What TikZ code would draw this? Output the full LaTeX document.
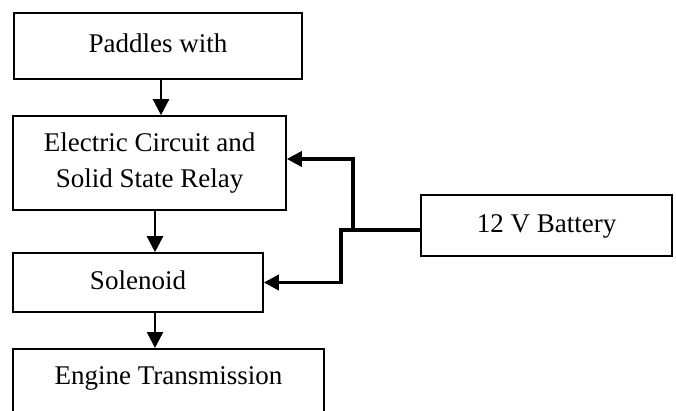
\documentclass[tikz,border=0pt]{standalone}
\usepackage{fontspec}
\setmainfont{Liberation Serif}
\usetikzlibrary{arrows.meta, positioning}

\begin{document}
\begin{tikzpicture}[
  x=1pt, y=1pt,
  font=\fontsize{27}{36}\selectfont,
  block/.style={draw, line width=1.6pt, inner sep=0pt, align=center},
  oneline/.style={block, text height=19pt, text depth=6pt},
  edge/.style={-{Triangle[length=16pt, width=16pt]}, line width=2.4pt},
  power/.style={-{Triangle[length=15pt, width=15pt]}, line width=3.6pt}
]
\clip (0,0) rectangle (676,410);
\node[oneline, minimum width=288pt, minimum height=66pt] (paddles) at (158,364) {Paddles with};
\node[block, minimum width=273pt, minimum height=94pt] (circuit) at (149.5,247) {Electric Circuit and\\Solid State Relay};
\node[oneline, minimum width=250pt, minimum height=59pt] (solenoid) at (138,127.5) {Solenoid};
\node[block, anchor=north, minimum width=311pt, text height=26pt, text depth=40pt, inner ysep=10pt] (engine) at (168.5,62) {Engine Transmission};
\node[oneline, minimum width=251pt, minimum height=61pt] (battery) at (546.5,184.5) {12 V Battery};

\coordinate (split) at (353,180);
\coordinate (bend) at (341,180);

\draw[edge] ([xshift=3pt]paddles.south) -- ([xshift=3pt]paddles.south |- circuit.north);
\draw[edge] ([xshift=5.5pt]circuit.south) -- ([xshift=5.5pt]circuit.south |- solenoid.north);
\draw[edge] ([xshift=17pt]solenoid.south) -- ([xshift=17pt]solenoid.south |- engine.north);
\draw[power] ([yshift=-4.5pt]battery.west) -- (split) |- ([yshift=4pt]circuit.east);
\draw[power] (split) -- (bend) |- (solenoid.east);
\end{tikzpicture}
\end{document}
